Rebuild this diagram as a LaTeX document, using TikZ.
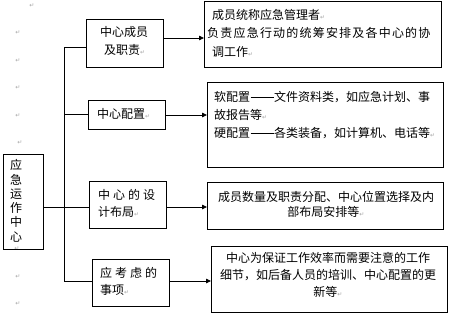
\documentclass[tikz,border=0pt]{standalone}
\usepackage{fontspec}
\newfontfamily\cjk{Noto Sans CJK SC}
\newfontfamily\dvs{DejaVu Sans}
\usetikzlibrary{arrows.meta}
\newcommand\retmark{{\dvs\color{black!35}\fontsize{6}{6}\selectfont ↵}}
\newcommand\longdsh{\hspace{0.5pt}\rule[4.3pt]{23pt}{0.5pt}\hspace{0.5pt}}
\tikzset{
  box/.style={draw, line width=0.8pt, inner sep=0pt, anchor=north west},
  txt/.style={font=\cjk\fontsize{12}{14}\selectfont, inner sep=0pt, text height=10.5pt, text depth=1.5pt},
  wide/.style={font=\cjk\fontsize{12}{14}\selectfont\addfontfeature{LetterSpace=25}},
  wider/.style={font=\cjk\fontsize{12}{14}\selectfont\addfontfeature{LetterSpace=10}},
  retm/.style={inner sep=0pt, font=\dvs\fontsize{6}{6}\selectfont, text=black!35},
  wire/.style={line width=0.8pt},
  arr/.style={wire, -{Triangle[length=5pt,width=4.5pt]}}
}
\begin{document}
\begin{tikzpicture}[x=1pt,y=-1pt]
\fill[white] (0,0) rectangle (450,314);
\useasboundingbox (0,0) rectangle (450,314);

% left margin paragraph marks
\foreach \i/\px/\py in {1/32/6,2/18/33,3/18/61,4/18/88,5/18/116,6/20/143,7/17/249,8/18/277,9/18/304}
  \node[retm] (m\i) at (\px,\py) {↵};

% boxes
\node[box, minimum width=40pt, minimum height=95pt] (L) at (3,154) {};
\node[box, minimum width=77pt, minimum height=48pt] (b1) at (86,19) {};
\node[box, minimum width=77pt, minimum height=29pt] (b2) at (88,100) {};
\node[box, minimum width=77pt, minimum height=47pt] (b3) at (89,181) {};
\node[box, minimum width=77pt, minimum height=47pt] (b4) at (92,259) {};
\node[box, minimum width=237pt, minimum height=66pt] (r1) at (204,1) {};
\node[box, minimum width=236pt, minimum height=85pt] (r2) at (207,82) {};
\node[box, minimum width=236pt, minimum height=47pt] (r3) at (207,182) {};
\node[box, minimum width=236pt, minimum height=66pt] (r4) at (211,246) {};

% left box vertical text
\foreach \i/\c/\py in {1/应/165,2/急/180,3/运/194,4/作/208,5/中/222,6/心/237}
  \node[txt] (l\i) at (16,\py) {\c};

% box texts
\node[txt] (t1a) at (124,32) {中心成员};
\node[txt, anchor=west] (t1b) at (104,50) {及职责\retmark};
\node[txt, anchor=west] (t2a) at (97,114) {中心配置\retmark};
\node[txt, anchor=west, wide] (t3a) at (98,195) {中心的设};
\node[txt, anchor=west] (t3b) at (98,212) {计布局\retmark};
\node[txt, anchor=west, wide] (t4a) at (100,273) {应考虑的};
\node[txt, anchor=west] (t4b) at (100,290) {事项\retmark};

\node[txt, anchor=west] (s1a) at (212,15) {成员统称应急管理者\retmark};
\node[txt, anchor=west, wider] (s1b) at (207,33) {负责应急行动的统筹安排及各中心的协};
\node[txt, anchor=west] (s1c) at (212,52) {调工作\retmark};

\node[txt, anchor=west] (s2a) at (214,97) {软配置\longdsh 文件资料类，如应急计划、事};
\node[txt, anchor=west] (s2b) at (214,115) {故报告等\retmark};
\node[txt, anchor=west] (s2c) at (214,133) {硬配置\longdsh 各类装备，如计算机、电话等\retmark};

\node[txt] (s3a) at (326,197) {成员数量及职责分配、中心位置选择及内};
\node[txt] (s3b) at (326,212) {部布局安排等\retmark};

\node[txt] (s4a) at (328,258) {中心为保证工作效率而需要注意的工作};
\node[txt] (s4b) at (328,275) {细节，如后备人员的培训、中心配置的更};
\node[txt] (s4c) at (328,292) {新等\retmark};

% trunk
\coordinate (j1) at (64,47);
\coordinate (j2) at (64,114);
\coordinate (j3) at (64,207);
\coordinate (j4) at (64,281);
\draw[wire] (j1) -- (j4);
\draw[wire] (L.east |- j3) -- (j3);
\draw[wire] (j1) -- (b1.west |- j1);
\draw[wire] (j2) -- (b2.west |- j2);
\draw[wire] (j3) -- (b3.west |- j3);
\draw[wire] (j4) -- (b4.west |- j4);

% arrows
\coordinate (a1) at (0,38);
\coordinate (a2) at (0,115);
\coordinate (a3) at (0,207);
\coordinate (a4) at (0,281);
\draw[arr] (b1.east |- a1) -- (r1.west |- a1);
\draw[arr] (b2.east |- a2) -- (r2.west |- a2);
\draw[arr] (b3.east |- a3) -- (r3.west |- a3);
\draw[arr] (b4.east |- a4) -- (r4.west |- a4);
\end{tikzpicture}
\end{document}
